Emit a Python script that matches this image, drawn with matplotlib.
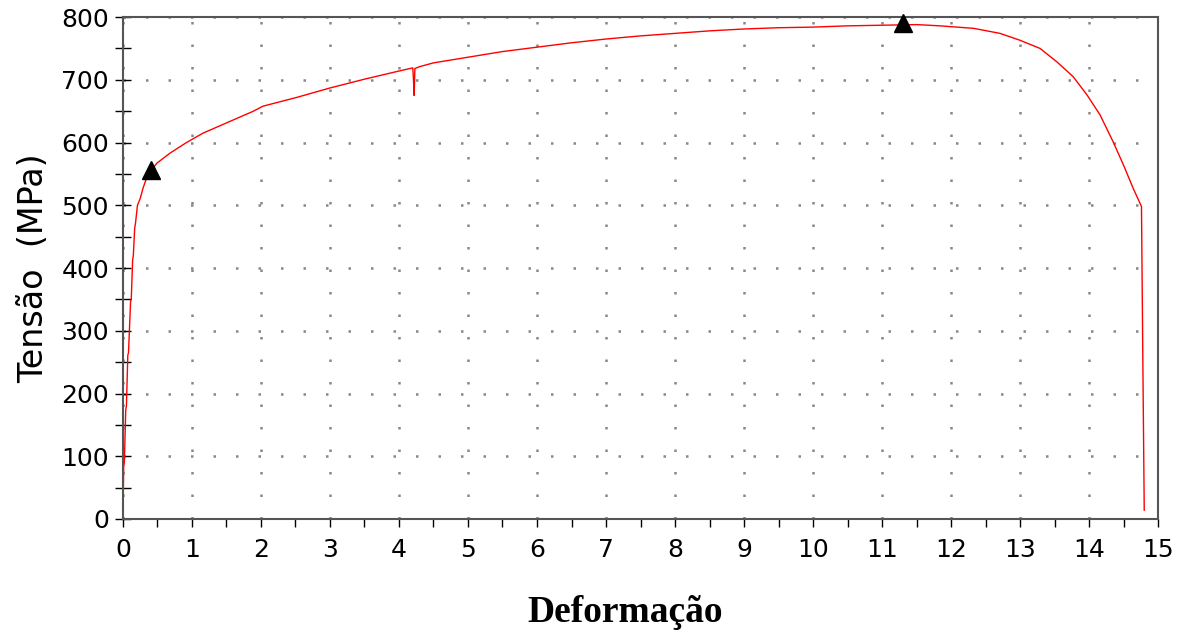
import matplotlib
matplotlib.use("Agg")
import matplotlib.pyplot as plt
from matplotlib.ticker import MultipleLocator

# deformação (%) e tensão (MPa)
deform = [0.0, 0.01, 0.02, 0.04, 0.05, 0.07, 0.08, 0.11, 0.12, 0.14, 0.15, 0.17, 0.18,
          0.21, 0.25, 0.29, 0.34, 0.42, 0.49, 0.68, 0.92, 1.16, 1.41, 1.89, 2.03, 2.52,
          3.0, 3.5, 4.0, 4.2, 4.21, 4.22, 4.23, 4.3, 4.5, 5.0, 5.5, 6.0, 6.5, 7.0,
          7.5, 8.0, 8.5, 9.0, 9.5, 10.0, 10.5, 11.0, 11.5, 11.84, 12.33, 12.71, 13.0,
          13.29, 13.53, 13.77, 13.97, 14.16, 14.35, 14.5, 14.64, 14.76,
          14.78, 14.8]
tensao = [0, 83, 90, 174, 180, 261, 265, 346, 350, 413, 420, 464, 470,
          500, 511, 527, 543, 557, 567, 583, 600, 615, 627, 650, 658, 672,
          687, 701, 714, 719, 700, 675, 718, 721, 727, 736, 745, 752, 759, 765,
          770, 774, 778, 781, 783, 784, 786, 787, 788, 786, 782, 774, 763,
          750, 729, 705, 676, 644, 601, 564, 527, 498,
          250, 14]

# pontos marcados (escoamento e tensão máxima)
marc_x = [0.4, 11.3]
marc_y = [557, 790]

fig = plt.figure(figsize=(11.87, 6.32), dpi=100)
ax = fig.add_axes([0.1036, 0.1788, 0.872, 0.7942])

ax.plot(deform, tensao, color="red", lw=1.0)
ax.plot(marc_x, marc_y, "^", color="black", markersize=13, clip_on=False, zorder=5)

ax.set_xlim(0, 15)
ax.set_ylim(0, 800)
ax.xaxis.set_major_locator(MultipleLocator(1))
ax.xaxis.set_minor_locator(MultipleLocator(0.5))
ax.yaxis.set_major_locator(MultipleLocator(100))
ax.yaxis.set_minor_locator(MultipleLocator(50))

ax.grid(True, which="major", color="#888888", linestyle=(0, (1, 8)), lw=1.8)
ax.tick_params(axis="x", which="both", direction="out", length=6, width=1, labelsize=18, pad=8)
ax.tick_params(axis="y", which="both", direction="inout", length=12, width=1, labelsize=18, pad=4)

for s in ax.spines.values():
    s.set_color("#555555")
    s.set_linewidth(1.5)

ax.set_ylabel("Tensão  (MPa)", fontsize=24, labelpad=8)
ax.set_xlabel("Deformação", fontsize=27, fontweight="bold", family="Liberation Serif")
ax.xaxis.set_label_coords(0.485, -0.152)

fig.savefig("out.png", dpi=100)
